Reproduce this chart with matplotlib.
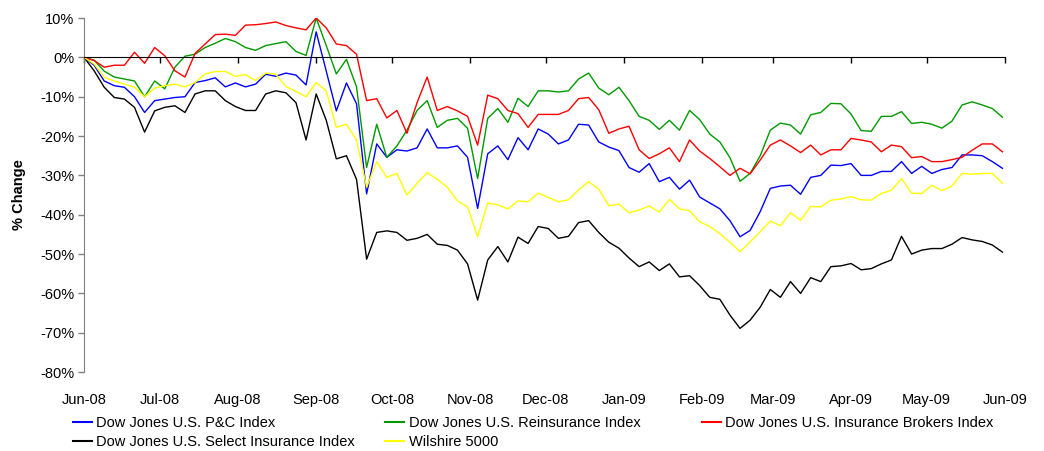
import pandas as pd
import matplotlib
matplotlib.use("Agg")
import matplotlib.pyplot as plt
import matplotlib.dates as mdates
from matplotlib.lines import Line2D
from matplotlib.ticker import FuncFormatter

plt.rcParams["font.family"] = ["Liberation Sans", "DejaVu Sans"]

# ----- date (un punct la 4 zile) -----
dates = pd.date_range("2008-06-01", periods=92, freq="4D")

pc_index = [0, -2, -6, -7.2, -7.6, -10, -14, -11, -10.6, -10.2, -10, -6.4, -5.9, -5.2,
            -7.5, -6.5, -7.5, -6.8, -4.3, -4.8, -4.0, -4.5, -7.0, 6.5, -3.5, -13.6,
            -6.5, -11.8, -34.7, -22.0, -25.4, -23.5, -23.8, -23.0, -18.2, -23.0, -23.0, -22.5, -25.4,
            -38.4, -24.5, -22.5, -26.0, -20.4, -23.5, -18.2, -19.5, -22.0, -21.0, -17.0, -17.2, -21.5,
            -22.8, -23.7, -28.0, -29.2, -27.0, -31.6, -30.5, -33.5, -31.2, -35.5, -37.0, -38.5, -41.5,
            -45.6, -44.0, -39.2, -33.3, -32.7, -32.5, -34.8, -30.5, -30.0, -27.4, -27.5, -27.0, -30.0,
            -30.0, -29.0, -29.0, -26.5, -29.5, -27.7, -29.5, -28.5, -28.0, -24.8, -24.8, -25.0, -26.5, -28.2]

reinsurance = [0, -0.7, -3.5, -5.0, -5.5, -6.0, -10.0, -6.0, -8.0, -2.5, 0.3, 0.8, 2.5, 3.6,
               4.8, 4.0, 2.5, 1.8, 3.0, 3.5, 4.0, 1.5, 0.5, 10.0, 3.0, -4.2,
               -0.5, -7.5, -28.0, -17.0, -25.4, -22.5, -18.5, -13.5, -11.0, -17.8, -16.0, -15.5, -18.0,
               -30.8, -15.5, -13.0, -16.5, -10.4, -12.5, -8.5, -8.5, -8.8, -8.5, -5.5, -4.0, -7.8,
               -9.5, -7.6, -11.0, -15.0, -16.0, -18.3, -16.0, -18.5, -13.5, -15.8, -19.5, -21.5, -25.5,
               -31.5, -29.5, -25.0, -18.5, -16.7, -17.2, -19.5, -14.6, -14.0, -11.7, -11.8, -14.4, -18.6,
               -18.8, -15.0, -15.0, -13.8, -16.8, -16.5, -17.0, -18.0, -16.2, -12.1, -11.3, -12.1, -13.0, -15.2]

brokers = [0, -0.8, -2.5, -2.0, -2.0, 1.3, -1.5, 2.5, 0.4, -3.4, -5.0, 1.0, 3.4, 5.8,
           5.9, 5.6, 8.2, 8.3, 8.6, 9.0, 8.1, 7.5, 7.0, 10.0, 7.5, 3.4,
           3.0, 0.8, -11.0, -10.5, -15.4, -13.5, -19.3, -11.5, -5.0, -13.5, -12.5, -13.6, -15.0,
           -22.3, -9.6, -10.5, -13.5, -14.3, -17.8, -14.5, -14.5, -14.5, -13.5, -10.5, -10.2, -13.3,
           -19.3, -18.2, -17.5, -23.5, -25.7, -24.5, -23.0, -26.5, -21.0, -23.8, -25.7, -27.8, -30.0,
           -28.2, -29.6, -26.1, -22.3, -21.0, -22.5, -24.2, -22.3, -24.8, -23.5, -23.5, -20.6, -21.0,
           -21.5, -24.0, -22.3, -22.7, -25.5, -25.2, -26.5, -26.5, -26.0, -25.4, -23.6, -22.0, -22.0, -24.0]

select_ins = [0, -3.4, -7.6, -10.2, -10.6, -12.7, -19.0, -13.6, -12.7, -12.3, -14.0, -9.3, -8.5, -8.5,
              -11.0, -12.5, -13.5, -13.5, -9.3, -8.5, -9.0, -11.5, -21.0, -9.3, -16.0, -25.8,
              -25.0, -31.0, -51.3, -44.5, -44.1, -44.5, -46.5, -46.0, -45.0, -47.5, -47.8, -49.0, -52.5,
              -61.7, -51.5, -48.1, -52.0, -45.7, -47.3, -43.0, -43.5, -46.0, -45.5, -42.0, -41.5, -44.5,
              -47.0, -48.5, -51.0, -53.2, -52.0, -54.2, -52.5, -55.8, -55.5, -58.0, -61.0, -61.5, -65.5,
              -68.9, -66.8, -63.5, -59.0, -61.0, -57.0, -60.0, -56.0, -57.0, -53.2, -53.0, -52.4, -54.0,
              -53.7, -52.5, -51.5, -45.5, -50.0, -49.0, -48.6, -48.6, -47.5, -45.8, -46.4, -46.8, -47.7, -49.5]

wilshire = [0, -1.7, -5.1, -6.0, -6.8, -7.6, -10.0, -7.8, -7.2, -6.8, -7.5, -6.4, -4.2, -3.6,
            -3.6, -4.8, -4.4, -5.9, -4.0, -4.3, -7.4, -8.7, -10.0, -6.4, -8.5, -17.8,
            -17.0, -21.0, -33.0, -26.5, -30.5, -29.5, -35.0, -32.0, -29.3, -31.0, -33.0, -36.5, -38.0,
            -45.6, -37.0, -37.5, -38.5, -36.5, -36.7, -34.5, -35.6, -36.7, -36.2, -33.7, -31.6, -33.5,
            -37.7, -37.3, -39.5, -38.8, -37.8, -39.3, -36.1, -38.5, -39.0, -41.8, -43.0, -44.8, -47.0,
            -49.4, -46.9, -44.3, -41.6, -42.8, -39.5, -41.4, -37.9, -38.0, -36.3, -36.0, -35.4, -36.2,
            -36.3, -34.6, -33.8, -30.8, -34.5, -34.6, -32.5, -33.9, -32.7, -29.5, -29.7, -29.5, -29.5, -32.0]

series = [
    ("Dow Jones U.S. P&C Index", pc_index, "#0000FF"),
    ("Dow Jones U.S. Reinsurance Index", reinsurance, "#009A00"),
    ("Dow Jones U.S. Insurance Brokers Index", brokers, "#FF0000"),
    ("Dow Jones U.S. Select Insurance Index", select_ins, "#000000"),
    ("Wilshire 5000", wilshire, "#FFFF00"),
]

fs = 10.5

fig = plt.figure(figsize=(10.44, 4.51), dpi=100)
ax = fig.add_axes([0.0805, 0.175, 0.8821, 0.785])

for name, vals, col in series:
    ax.plot(dates, vals, color=col, lw=1.0, label=name)

ax.set_xlim(pd.Timestamp("2008-06-01"), pd.Timestamp("2009-06-01"))
ax.set_ylim(-80, 10)
ax.set_yticks(range(-80, 11, 10))
ax.yaxis.set_major_formatter(FuncFormatter(lambda v, p: f"{v:.0f}%"))
ax.tick_params(axis="y", direction="out", length=4, width=1, color="#808080",
               labelsize=fs, pad=3)

# axa x trece prin 0%, etichetele raman jos
for s in ["top", "right"]:
    ax.spines[s].set_visible(False)
ax.spines["left"].set_color("#808080")
ax.spines["bottom"].set_position(("data", 0))
ax.spines["bottom"].set_color("black")
month_ticks = pd.date_range("2008-06-01", "2009-06-01", freq="MS")
ax.set_xticks(month_ticks)
ax.tick_params(axis="x", direction="out", length=4, width=1, labelbottom=False)

sec = ax.secondary_xaxis(0.0)
sec.set_xticks(month_ticks)
sec.xaxis.set_major_formatter(mdates.DateFormatter("%b-%y"))
sec.tick_params(axis="x", length=0, labelsize=fs, pad=15)
sec.spines["bottom"].set_visible(False)

ax.set_ylabel("% Change", fontsize=fs, fontweight="bold", labelpad=10)

# legenda pe trei coloane
cols = [(0.070, [0, 3]), (0.369, [1, 4]), (0.672, [2])]
for xpos, idx in cols:
    handles = [Line2D([], [], color=series[i][2], lw=1.5) for i in idx]
    labels = [series[i][0] for i in idx]
    fig.legend(handles, labels, loc="upper left", bbox_to_anchor=(xpos, 0.078),
               frameon=False, fontsize=fs, handlelength=1.3, handletextpad=0.3,
               labelspacing=0.38, borderaxespad=0, borderpad=0)

fig.savefig("out.png", dpi=100)
